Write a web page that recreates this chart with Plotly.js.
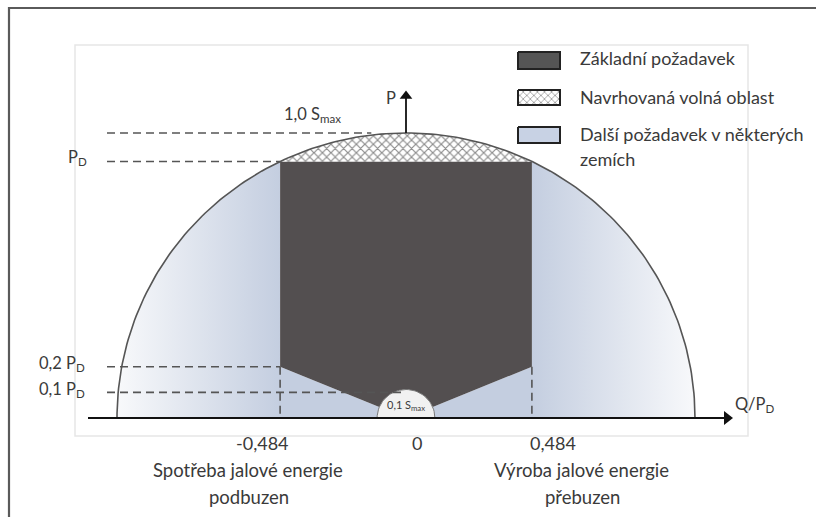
<!DOCTYPE html>
<html>
<head>
<meta charset="utf-8">
<script src="https://cdn.plot.ly/plotly-3.0.1.min.js"></script>
<style>html,body{margin:0;padding:0;background:#fff;}#chart{width:816px;height:517px;}</style>
</head>
<body>
<div id="chart"></div>
<script>
// ---- data (units: S_max for geometry, Q/P_D for tick labels) ----
const S_MAX = 1.0;              // radius of the capability circle
const PD_SMAX = 0.9;            // P_D as fraction of S_max
const Q_LIMIT = 0.484;          // Q/P_D limit of the base requirement
const LOW_LEVELS = [0.2, 0.1];  // lower P levels as fraction of P_D
const S_MIN = 0.1;              // small circle (0,1 S_max)
const TICK_VALUES = [-0.484, 0, 0.484];
const TICK_LABELS = ['-0,484', '0', '0,484'];
const LEVEL_LABELS = ['1,0 S<sub>max</sub>', 'P<sub>D</sub>', '0,2 P<sub>D</sub>', '0,1 P<sub>D</sub>'];
const LEGEND_LABELS = ['Základní požadavek', 'Navrhovaná volná oblast', 'Další požadavek v některých', 'zemích'];
const CAPTIONS_LEFT = ['Spotřeba jalové energie', 'podbuzen'];
const CAPTIONS_RIGHT = ['Výroba jalové energie', 'přebuzen'];

// ---- pixel helpers (for frame / legend placement) ----
const W = 816, H = 517;
const X0 = 406, SX = 289, Y0 = 418, SY = 285;
const px2x = p => (p - X0) / SX;
const py2y = p => (Y0 - p) / SY;

function arc(r, a0, a1, n) {
  const xs = [], ys = [];
  for (let i = 0; i <= n; i++) {
    const a = (a0 + (a1 - a0) * i / n) * Math.PI / 180;
    xs.push(r * Math.cos(a)); ys.push(r * Math.sin(a));
  }
  return [xs, ys];
}

const pd = PD_SMAX * S_MAX;
const qx = Q_LIMIT * pd;
const lowY = LOW_LEVELS.map(v => v * pd);
const aPD = Math.asin(pd / S_MAX) * 180 / Math.PI;
const th = Math.atan2(lowY[0], qx) * 180 / Math.PI;
const ix = S_MIN * Math.cos(th * Math.PI / 180), iy = S_MIN * Math.sin(th * Math.PI / 180);

const BLUE = '#c4cee0', PALE = '#f8f9fb', DARK = '#534f50', LINE = '#555555', TXT = '#3a3a3a';
const traces = [];

// left light-blue region
{
  const [ax, ay] = arc(S_MAX, 180, 180 - aPD, 60);
  const [sx, sy] = arc(S_MIN, 180 - th, 180, 20);
  traces.push({x: ax.concat([-qx, -qx, -ix], sx), y: ay.concat([pd, lowY[0], iy], sy),
    mode: 'lines', fill: 'toself', line: {width: 0},
    fillgradient: {type: 'horizontal', start: -S_MAX, stop: -qx, colorscale: [[0, PALE], [1, BLUE]]}});
}
// right light-blue region
{
  const [ax, ay] = arc(S_MAX, 0, aPD, 60);
  const [sx, sy] = arc(S_MIN, th, 0, 20);
  traces.push({x: ax.concat([qx, qx, ix], sx), y: ay.concat([pd, lowY[0], iy], sy),
    mode: 'lines', fill: 'toself', line: {width: 0},
    fillgradient: {type: 'horizontal', start: qx, stop: S_MAX, colorscale: [[0, BLUE], [1, PALE]]}});
}
// dark base requirement
{
  const [sx, sy] = arc(S_MIN, th, 180 - th, 40);
  traces.push({x: [-qx, qx, qx].concat(sx, [-qx]), y: [pd, pd, lowY[0]].concat(sy, [lowY[0]]),
    mode: 'lines', fill: 'toself', fillcolor: DARK, line: {width: 0}});
}
// cross-hatched cap
{
  const [ax, ay] = arc(S_MAX, aPD, 180 - aPD, 60);
  traces.push({x: ax, y: ay, mode: 'lines', fill: 'toself', line: {width: 0},
    fillcolor: '#ffffff',
    fillpattern: {shape: 'x', size: 6, solidity: 0.35, fgcolor: '#8a8a8a', bgcolor: '#ffffff', fillmode: 'replace'}});
}
// small semicircle
{
  const [sx, sy] = arc(S_MIN, 0, 180, 40);
  traces.push({x: sx, y: sy, mode: 'lines', fill: 'toself', fillcolor: '#f1f1f1', line: {color: '#777', width: 1}});
}
// big circle outline
{
  const [ax, ay] = arc(S_MAX, 0, 180, 180);
  traces.push({x: ax, y: ay, mode: 'lines', line: {color: LINE, width: 1.6}});
}
// dashed guide lines
const dash = {color: LINE, width: 1.6, dash: '8px,5px'};
const dashStart = px2x(107);
[[S_MAX, -0.12], [pd, -qx], [lowY[0], -qx], [lowY[1], -0.01]].forEach(([yv, xe]) => {
  traces.push({x: [dashStart, xe], y: [yv, yv], mode: 'lines', line: dash});
});
[-qx, qx].forEach(xv => traces.push({x: [xv, xv], y: [lowY[0], 0], mode: 'lines', line: dash}));

// axis arrows (Q axis and P axis)
traces.push({x: [px2x(88), px2x(727)], y: [0, 0], mode: 'lines', line: {color: '#111', width: 2}});
traces.push({x: [px2x(727)], y: [0], mode: 'markers', marker: {symbol: 'triangle-right', size: 12, color: '#111'}});
traces.push({x: [0, 0], y: [S_MAX, py2y(97)], mode: 'lines', line: {color: '#111', width: 1.8}});
traces.push({x: [0], y: [py2y(96)], mode: 'markers', marker: {symbol: 'triangle-up', size: 11, color: '#111'}});

// legend swatches (pixel boxes)
const sw = [[52, 69], [90, 105], [127, 143]];
const swFill = [{fillcolor: '#555555'}, {fillcolor: '#ffffff', fillpattern: {shape: 'x', size: 5, solidity: 0.3, fgcolor: '#9a9a9a', bgcolor: '#fff', fillmode: 'replace'}}, {fillcolor: '#c8d2e4'}];
sw.forEach(([t, b], i) => {
  const xa = px2x(518), xb = px2x(560), ya = py2y(t), yb = py2y(b);
  traces.push(Object.assign({x: [xa, xb, xb, xa, xa], y: [ya, ya, yb, yb, ya], mode: 'lines', fill: 'toself',
    line: {color: '#222', width: 2}}, swFill[i]));
});

const F = 'Lato, "Open Sans", sans-serif';
const ann = [];
const txt = (text, x, y, size, xanchor, extra) => ann.push(Object.assign({text, x, y, xref: 'x', yref: 'y', showarrow: false,
  xanchor: xanchor || 'center', yanchor: 'middle', font: {family: F, size: size, color: TXT}}, extra || {}));

// level labels
txt(LEVEL_LABELS[0], px2x(282), py2y(114), 16.5, 'left');
txt(LEVEL_LABELS[1], px2x(89), py2y(157), 16.5, 'right');
txt(LEVEL_LABELS[2], px2x(87), py2y(363), 16.5, 'right');
txt(LEVEL_LABELS[3], px2x(87), py2y(389), 16.5, 'right');
txt('P', px2x(391), py2y(98), 16.5, 'center');
txt('Q/P<sub>D</sub>', px2x(733), py2y(404), 16.5, 'left');
txt('0,1 S<sub>max</sub>', 0, py2y(405), 11, 'center');

// tick labels
const tickShift = [-18, 11, 21];
TICK_VALUES.forEach((v, i) => txt(TICK_LABELS[i], v * pd, py2y(443), 18, 'center', {xshift: tickShift[i]}));
// captions
txt(CAPTIONS_LEFT[0], px2x(248), py2y(470), 18.5, 'center');
txt(CAPTIONS_LEFT[1], px2x(249), py2y(497), 18.5, 'center');
txt(CAPTIONS_RIGHT[0], px2x(581), py2y(470), 18.5, 'center');
txt(CAPTIONS_RIGHT[1], px2x(582), py2y(497), 18.5, 'center');
// legend texts
[58, 97, 134, 159].forEach((py, i) => txt(LEGEND_LABELS[i], px2x(578), py2y(py), 18, 'left'));

const shapes = [
  {type: 'rect', xref: 'paper', yref: 'paper', x0: 75 / W, x1: 748 / W, y0: 1 - 436 / H, y1: 1 - 45 / H,
   line: {color: '#e6e6e6', width: 1.5}, layer: 'below'},
  {type: 'rect', xref: 'paper', yref: 'paper', x0: 9 / W, x1: 1.02, y0: -0.02, y1: 1 - 8 / H,
   line: {color: '#5a5a5a', width: 2.2}, layer: 'above'}
];

const layout = {
  width: W, height: H, margin: {l: 0, r: 0, t: 0, b: 0},
  paper_bgcolor: '#ffffff', plot_bgcolor: '#ffffff', showlegend: false, hovermode: false,
  xaxis: {range: [px2x(0), px2x(W)], visible: false, fixedrange: true},
  yaxis: {range: [py2y(H), py2y(0)], visible: false, fixedrange: true},
  annotations: ann, shapes: shapes
};
Plotly.newPlot('chart', traces, layout, {staticPlot: true, displayModeBar: false});
</script>
</body>
</html>
